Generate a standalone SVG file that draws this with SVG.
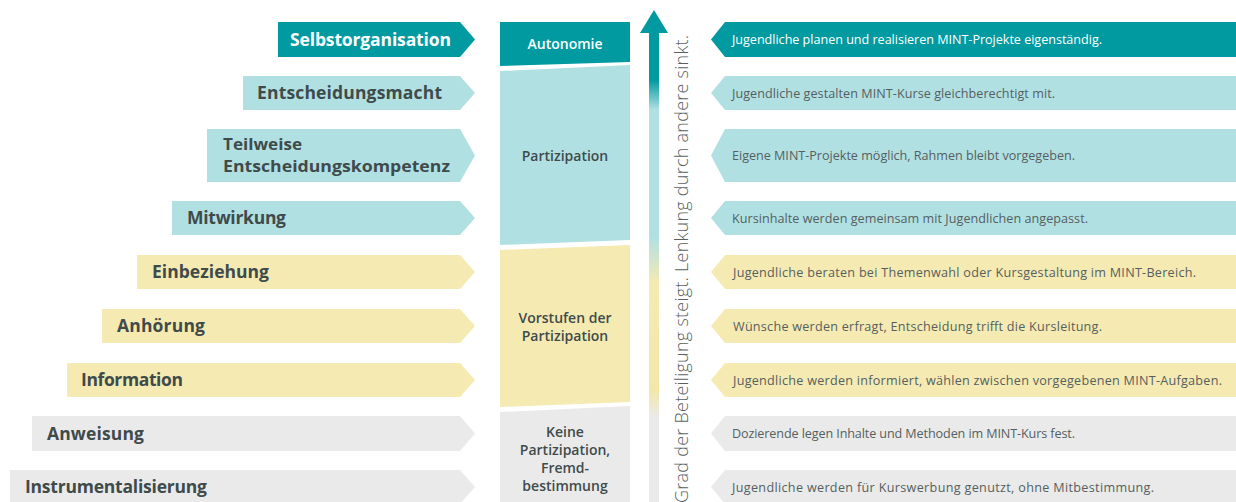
<svg xmlns="http://www.w3.org/2000/svg" width="1236" height="502" viewBox="0 0 1236 502">
<defs>
<linearGradient id="arrowGrad" gradientUnits="userSpaceOnUse" x1="0" y1="10" x2="0" y2="502">
<stop offset="0" stop-color="#009aa0"/>
<stop offset="0.142" stop-color="#009aa0"/>
<stop offset="0.203" stop-color="#b1e0e3"/>
<stop offset="0.461" stop-color="#b1e0e3"/>
<stop offset="0.555" stop-color="#f5eab2"/>
<stop offset="0.772" stop-color="#f3e7a8"/>
<stop offset="0.827" stop-color="#eaeaea"/>
<stop offset="1" stop-color="#eaeaea"/>
</linearGradient>
<style>
.teal{fill:#009aa0}
.lt{fill:#b1e0e3}
.yl{fill:#f5eab2}
.gr{fill:#eaeaea}
.lbl{font-family:"Open Sans","Liberation Sans",sans-serif;font-weight:700;font-size:17.5px;fill:#3f4b4b}
.lbl.w{fill:#ffffff}
.lbl.s{font-size:16px}
.desc{font-family:"Open Sans","Liberation Sans",sans-serif;font-size:12.6px;fill:#555f5f}
.desc.w{fill:#ffffff}
.mid{font-family:"Open Sans","Liberation Sans",sans-serif;font-weight:600;font-size:14px;fill:#3f4b4b;text-anchor:middle}
.mid.w{fill:#ffffff}
.vert{font-family:"Open Sans","Liberation Sans",sans-serif;font-weight:300;font-size:18px;fill:#5a5f5f}
</style>
</defs>

<g id="levels-left">
<g id="l-selbstorganisation"><polygon class="teal" points="278,22 460,22 475,39.5 460,57 278,57"/><text class="lbl w" x="290" y="45.5" textLength="161">Selbstorganisation</text></g>
<g id="l-entscheidungsmacht"><polygon class="lt" points="243,76 460,76 475,93 460,110 243,110"/><text class="lbl" x="257" y="99" textLength="185">Entscheidungsmacht</text></g>
<g id="l-teilweise"><polygon class="lt" points="207,129 460,129 475,155.5 460,182 207,182"/><text class="lbl s" x="223" y="150" textLength="79" lengthAdjust="spacingAndGlyphs">Teilweise</text><text class="lbl s" x="223" y="172" textLength="227" lengthAdjust="spacingAndGlyphs">Entscheidungskompetenz</text></g>
<g id="l-mitwirkung"><polygon class="lt" points="172,201 460,201 475,218 460,235 172,235"/><text class="lbl" x="187" y="224" textLength="99">Mitwirkung</text></g>
<g id="l-einbeziehung"><polygon class="yl" points="137,255 460,255 475,272 460,289 137,289"/><text class="lbl" x="152" y="278" textLength="117">Einbeziehung</text></g>
<g id="l-anhoerung"><polygon class="yl" points="102,309 460,309 475,326 460,343 102,343"/><text class="lbl" x="117" y="332" textLength="88">Anhörung</text></g>
<g id="l-information"><polygon class="yl" points="67,363 460,363 475,380 460,397 67,397"/><text class="lbl" x="81" y="386" textLength="102">Information</text></g>
<g id="l-anweisung"><polygon class="gr" points="32,416 460,416 475,433.5 460,451 32,451"/><text class="lbl" x="47" y="439.5" textLength="97">Anweisung</text></g>
<g id="l-instrumentalisierung"><polygon class="gr" points="10,470 460,470 475,487 460,504 10,504"/><text class="lbl" x="25" y="493" textLength="182">Instrumentalisierung</text></g>
</g>

<g id="stages-middle">
<g id="m-autonomie"><polygon class="teal" points="500,22 630,22 630,62 500,66"/><text class="mid w" x="565" y="49">Autonomie</text></g>
<g id="m-partizipation"><polygon class="lt" points="500,71 630,65 630,240 500,245"/><text class="mid" x="565" y="161">Partizipation</text></g>
<g id="m-vorstufen"><polygon class="yl" points="500,250 630,245 630,402 500,407"/><text class="mid" x="565" y="323">Vorstufen der</text><text class="mid" x="565" y="340.5">Partizipation</text></g>
<g id="m-keine"><polygon class="gr" points="500,412 630,406 630,502 500,502"/><text class="mid" x="565" y="437">Keine</text><text class="mid" x="565" y="455">Partizipation,</text><text class="mid" x="565" y="472.5">Fremd-</text><text class="mid" x="565" y="490.5">bestimmung</text></g>
</g>

<g id="connectors">
<g id="axis-arrow">
<polygon fill="url(#arrowGrad)" points="654,10 668,33 659,33 659,502 649,502 649,33 640,33"/>
<text class="vert" transform="translate(688,503) rotate(-90)" x="0" y="0" textLength="468">Grad der Beteiligung steigt. Lenkung durch andere sinkt.</text>
</g>
</g>

<g id="descriptions-right">
<g id="r-1"><polygon class="teal" points="1236,22 725,22 711,39.5 725,57 1236,57"/><text class="desc w" x="732" y="44" textLength="370">Jugendliche planen und realisieren MINT-Projekte eigenständig.</text></g>
<g id="r-2"><polygon class="lt" points="1236,76 725,76 711,93 725,110 1236,110"/><text class="desc" x="732" y="97.5" textLength="323">Jugendliche gestalten MINT-Kurse gleichberechtigt mit.</text></g>
<g id="r-3"><polygon class="lt" points="1236,129 725,129 711,155.5 725,182 1236,182"/><text class="desc" x="732" y="160" textLength="343">Eigene MINT-Projekte möglich, Rahmen bleibt vorgegeben.</text></g>
<g id="r-4"><polygon class="lt" points="1236,201 725,201 711,218 725,235 1236,235"/><text class="desc" x="732" y="222.5" textLength="356">Kursinhalte werden gemeinsam mit Jugendlichen angepasst.</text></g>
<g id="r-5"><polygon class="yl" points="1236,255 725,255 711,272 725,289 1236,289"/><text class="desc" x="733" y="276.5" textLength="463">Jugendliche beraten bei Themenwahl oder Kursgestaltung im MINT-Bereich.</text></g>
<g id="r-6"><polygon class="yl" points="1236,309 725,309 711,326 725,343 1236,343"/><text class="desc" x="733" y="330.5" textLength="369">Wünsche werden erfragt, Entscheidung trifft die Kursleitung.</text></g>
<g id="r-7"><polygon class="yl" points="1236,363 725,363 711,380 725,397 1236,397"/><text class="desc" x="733" y="384.5" textLength="489">Jugendliche werden informiert, wählen zwischen vorgegebenen MINT-Aufgaben.</text></g>
<g id="r-8"><polygon class="gr" points="1236,416 725,416 711,433.5 725,451 1236,451"/><text class="desc" x="732" y="438" textLength="343">Dozierende legen Inhalte und Methoden im MINT-Kurs fest.</text></g>
<g id="r-9"><polygon class="gr" points="1236,470 725,470 711,487 725,504 1236,504"/><text class="desc" x="732" y="491.5" textLength="422">Jugendliche werden für Kurswerbung genutzt, ohne Mitbestimmung.</text></g>
</g>
</svg>
